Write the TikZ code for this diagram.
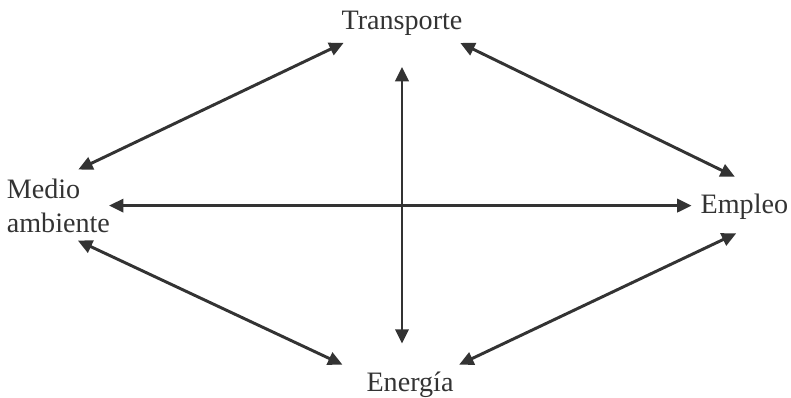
\documentclass[tikz,border=0pt]{standalone}
\usepackage{fontspec}
\setmainfont{Liberation Serif}
\usepackage{tikz}
\usetikzlibrary{arrows.meta,positioning,calc}

\begin{document}
\begin{tikzpicture}[
  arr/.style={<->, >={Triangle[length=3.6mm, width=3.3mm]}, line width=2.1pt, draw=black!80},
  lab/.style={inner sep=2pt, text=black!80, font=\fontsize{20}{24}\selectfont}
]
\useasboundingbox (0,0) rectangle (19.775,-9.925);
\node[lab] (tr) at (10.05,-0.59) {Transporte};
\node[lab, align=left] (med) at (1.46,-5.14) {Medio\\ambiente};
\node[lab] (emp) at (18.61,-5.16) {Empleo};
\node[lab] (en) at (10.25,-9.63) {Energía};
% cross in the middle
\draw[arr, shorten <=0.7cm, shorten >=0.64cm] (tr.south) -- (tr.south |- en.north);
\draw[arr, shorten <=-0.1cm, shorten >=0.15cm] (med.east) -- (med.east -| emp.west);
% diagonals
\foreach \p/\q/\s/\t in {tr.197/med.77/0.23/0.36, tr.343/emp.40/0.23/0.79,
                          med.286/en.167/0.3/0.58, emp.314/en.22/0.65/0.27} {
  \draw[arr, shorten <=\s cm, shorten >=\t cm] (\p) -- (\q);
}
\end{tikzpicture}
\end{document}
